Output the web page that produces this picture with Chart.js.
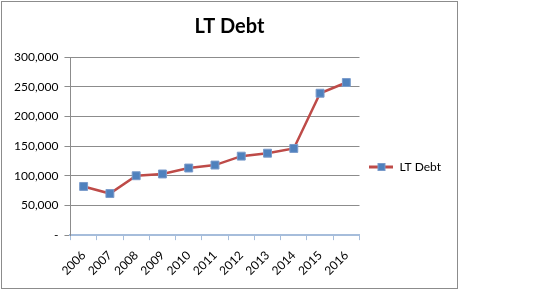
<!DOCTYPE html>
<html>
<head>
<meta charset="utf-8">
<script src="https://cdn.jsdelivr.net/npm/chart.js@4"></script>
<style>
  body { margin: 0; background: #fff; }
  #wrap { position: absolute; left: 1px; top: 1px; width: 455px; height: 286px; border: 1px solid #8c8c8c; }
</style>
</head>
<body>
<div id="wrap"><canvas id="myChart"></canvas></div>
<script>
const years = ['2006', '2007', '2008', '2009', '2010', '2011', '2012', '2013', '2014', '2015', '2016'];
const ltDebt = [82000, 70000, 100000, 103000, 113000, 118000, 133000, 138000, 146000, 239000, 257000];
const yTicks = [0, 50000, 100000, 150000, 200000, 250000, 300000];

// legend marker: red line with blue square
const legendIcon = document.createElement('canvas');
legendIcon.width = 24;
legendIcon.height = 10;
const lc = legendIcon.getContext('2d');
lc.strokeStyle = '#BE4B48';
lc.lineWidth = 3;
lc.beginPath(); lc.moveTo(0, 5); lc.lineTo(24, 5); lc.stroke();
lc.fillStyle = '#4F81BD';
lc.strokeStyle = '#7A9BCB';
lc.lineWidth = 1;
lc.fillRect(8, 1, 8, 8);
lc.strokeRect(8.5, 1.5, 7, 7);

// excel puts the legend a bit lower than the middle
const legendShift = {
  id: 'legendShift',
  afterLayout(chart) {
    chart.legend.top += 21;
    chart.legend.bottom += 21;
  }
};

const ctx = document.getElementById('myChart');

new Chart(ctx, {
  type: 'line',
  data: {
    labels: years,
    datasets: [{
      label: 'LT Debt',
      data: ltDebt,
      borderColor: '#BE4B48',
      borderWidth: 2.5,
      tension: 0,
      pointStyle: 'rect',
      pointRadius: 5.6,
      pointBackgroundColor: '#4F81BD',
      pointBorderColor: '#7A9BCB',
      pointBorderWidth: 1,
    }]
  },
  plugins: [legendShift],
  options: {
    responsive: true,
    maintainAspectRatio: false,
    animation: false,
    layout: {
      padding: { left: 6, right: 6, top: 4, bottom: 2 }
    },
    plugins: {
      title: {
        display: true,
        text: 'LT Debt',
        color: '#000',
        font: { family: 'Lato', size: 20, weight: 'bold' },
        padding: { top: 9, bottom: 18 },
      },
      legend: {
        position: 'right',
        labels: {
          usePointStyle: true,
          pointStyle: legendIcon,
          pointStyleWidth: 24,
          color: '#000',
          font: { family: 'Lato', size: 12 },
          padding: 10,
        },
      },
      tooltip: { enabled: false },
    },
    scales: {
      x: {
        offset: true,
        grid: {
          offset: true,
          drawOnChartArea: false,
          color: '#A6BDDB',
          tickLength: 5,
        },
        border: { color: '#A6BDDB', width: 2 },
        ticks: {
          minRotation: 45,
          maxRotation: 45,
          color: '#000',
          font: { family: 'Lato', size: 12 },
          padding: 8,
        },
      },
      y: {
        min: 0,
        max: 300000,
        afterBuildTicks: (axis) => { axis.ticks = yTicks.map(v => ({ value: v })); },
        grid: {
          color: '#8c8c8c',
          tickLength: 6,
        },
        border: { color: '#8c8c8c' },
        ticks: {
          color: '#000',
          font: { family: 'Lato', size: 12 },
          padding: 6,
          callback: (v) => v === 0 ? '-' : v.toLocaleString('en-US'),
        },
      },
    },
  }
});
</script>
</body>
</html>
